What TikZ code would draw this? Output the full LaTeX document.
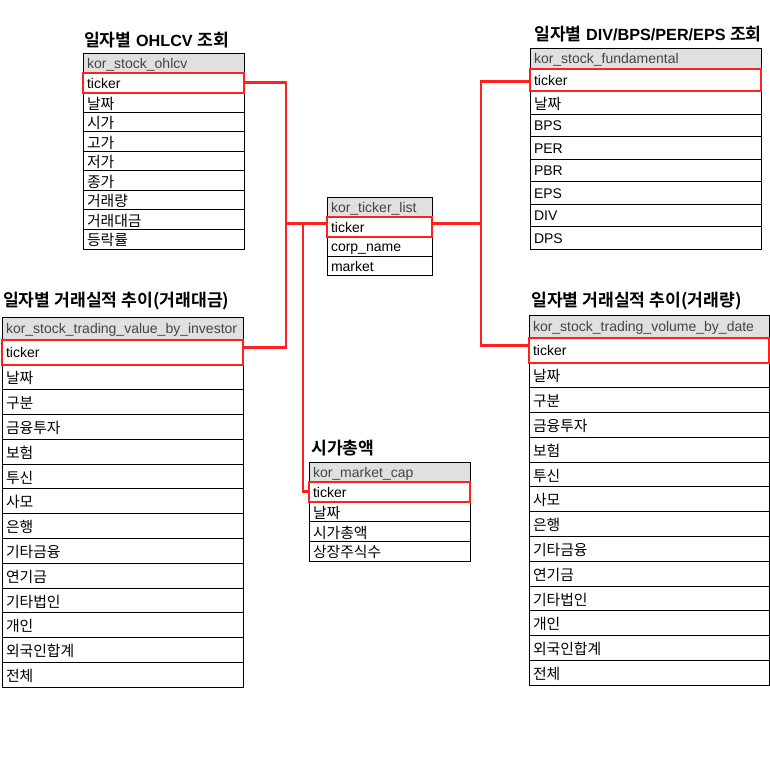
\documentclass[tikz,border=0pt]{standalone}
\usepackage{fontspec}
\setmainfont{Liberation Sans}
\newfontfamily\kr{Noto Sans CJK KR}[Scale=1.06, BoldFont={Noto Sans CJK KR Bold}]
\newcommand\ko[1]{\raisebox{-1.5pt}{\kr #1}}
\usetikzlibrary{positioning}
\definecolor{keyred}{RGB}{255,32,32}
\definecolor{headgray}{RGB}{224,224,224}
\definecolor{headtext}{RGB}{68,68,68}
\tikzset{
  cell/.style={draw=black, line width=0.9pt, anchor=north west, outer sep=0pt, inner xsep=4pt, inner ysep=0pt,
    text height=13pt, text depth=2.5pt, align=left, font=\fontsize{14}{16}\selectfont},
  head/.style={cell, fill=headgray, text=headtext},
  title/.style={anchor=west, inner sep=0pt, font=\fontsize{16.2}{18}\selectfont\bfseries},
  keybox/.style={draw=keyred, line width=2pt},
  link/.style={draw=keyred, line width=2.8pt}
}
\begin{document}
\begin{tikzpicture}[x=1pt,y=-1pt]
  \useasboundingbox (0,0) rectangle (770,765);
  % titles
  \node[title] (t-ohlcv) at (84,40) {{\kr 일자별} OHLCV {\kr 조회}};
  \node[title] (t-fund) at (534,34) {{\kr 일자별} DIV/BPS/PER/EPS {\kr 조회}};
  \node[title] (t-tv) at (3,301) {\kr 일자별 거래실적 추이(거래대금)};
  \node[title] (t-vol) at (531,301) {\kr 일자별 거래실적 추이(거래량)};
  \node[title] (t-mc) at (311,448) {\kr 시가총액};
  % kor_stock_ohlcv
  \node[head, text width=153pt, minimum height=20pt] (ohlcv-0) at (83,53) {kor\_stock\_ohlcv};
  \foreach \t [count=\i, evaluate=\i as \j using int(\i-1)] in
    {ticker, \ko{날짜}, \ko{시가}, \ko{고가}, \ko{저가}, \ko{종가}, \ko{거래량}, \ko{거래대금}, \ko{등락률}}
    \node[cell, text width=153pt, minimum height=19.55pt] (ohlcv-\i) at (ohlcv-\j.south west) {\t};
  % kor_stock_fundamental
  \node[head, text width=223pt, minimum height=21pt] (fund-0) at (530,48) {kor\_stock\_fundamental};
  \foreach \t [count=\i, evaluate=\i as \j using int(\i-1)] in
    {ticker, \ko{날짜}, BPS, PER, PBR, EPS, DIV, DPS}
    \node[cell, text width=223pt, minimum height=22.5pt] (fund-\i) at (fund-\j.south west) {\t};
  % kor_ticker_list
  \node[head, text width=97pt, minimum height=20pt] (list-0) at (327,197) {kor\_ticker\_list};
  \foreach \t [count=\i, evaluate=\i as \j using int(\i-1)] in
    {ticker, corp\_name, market}
    \node[cell, text width=97pt, minimum height=19.5pt] (list-\i) at (list-\j.south west) {\t};
  % kor_stock_trading_value_by_investor
  \node[head, text width=233pt, minimum height=23pt] (tv-0) at (2,317) {kor\_stock\_trading\_value\_by\_investor};
  \foreach \t [count=\i, evaluate=\i as \j using int(\i-1)] in
    {ticker, \ko{날짜}, \ko{구분}, \ko{금융투자}, \ko{보험}, \ko{투신}, \ko{사모}, \ko{은행},
     \ko{기타금융}, \ko{연기금}, \ko{기타법인}, \ko{개인}, \ko{외국인합계}, \ko{전체}}
    \node[cell, text width=233pt, minimum height=24.8pt] (tv-\i) at (tv-\j.south west) {\t};
  % kor_stock_trading_volume_by_date
  \node[head, text width=232pt, minimum height=23pt] (vol-0) at (529,315) {kor\_stock\_trading\_volume\_by\_date};
  \foreach \t [count=\i, evaluate=\i as \j using int(\i-1)] in
    {ticker, \ko{날짜}, \ko{구분}, \ko{금융투자}, \ko{보험}, \ko{투신}, \ko{사모}, \ko{은행},
     \ko{기타금융}, \ko{연기금}, \ko{기타법인}, \ko{개인}, \ko{외국인합계}, \ko{전체}}
    \node[cell, text width=232pt, minimum height=24.8pt] (vol-\i) at (vol-\j.south west) {\t};
  % kor_market_cap
  \node[head, text width=153pt, minimum height=20pt] (mc-0) at (309,462) {kor\_market\_cap};
  \foreach \t [count=\i, evaluate=\i as \j using int(\i-1)] in
    {ticker, \ko{날짜}, \ko{시가총액}, \ko{상장주식수}}
    \node[cell, text width=153pt, minimum height=19.75pt] (mc-\i) at (mc-\j.south west) {\t};
  % links on ticker
  \path ([yshift=3.5pt]list-1.west) coordinate (listL) ++(-41,0) coordinate (busL) ++(17,0) coordinate (busM);
  \path ([yshift=3.5pt]list-1.east) coordinate (listR) ++(49,0) coordinate (busR);
  \draw[link] (ohlcv-1.east) -| (busL) -- (listL);
  \draw[link] ([yshift=5pt]tv-1.east) -| (busL);
  \draw[link] (mc-1.west) -| (busM);
  \draw[link] (listR) -- (busR);
  \draw[link] ([yshift=-1pt]fund-1.west) -| (busR) |- ([yshift=5pt]vol-1.west);
  \foreach \k in {ohlcv, fund, list, tv, vol, mc}
    \draw[keybox] (\k-1.north west) rectangle (\k-1.south east);
\end{tikzpicture}
\end{document}
